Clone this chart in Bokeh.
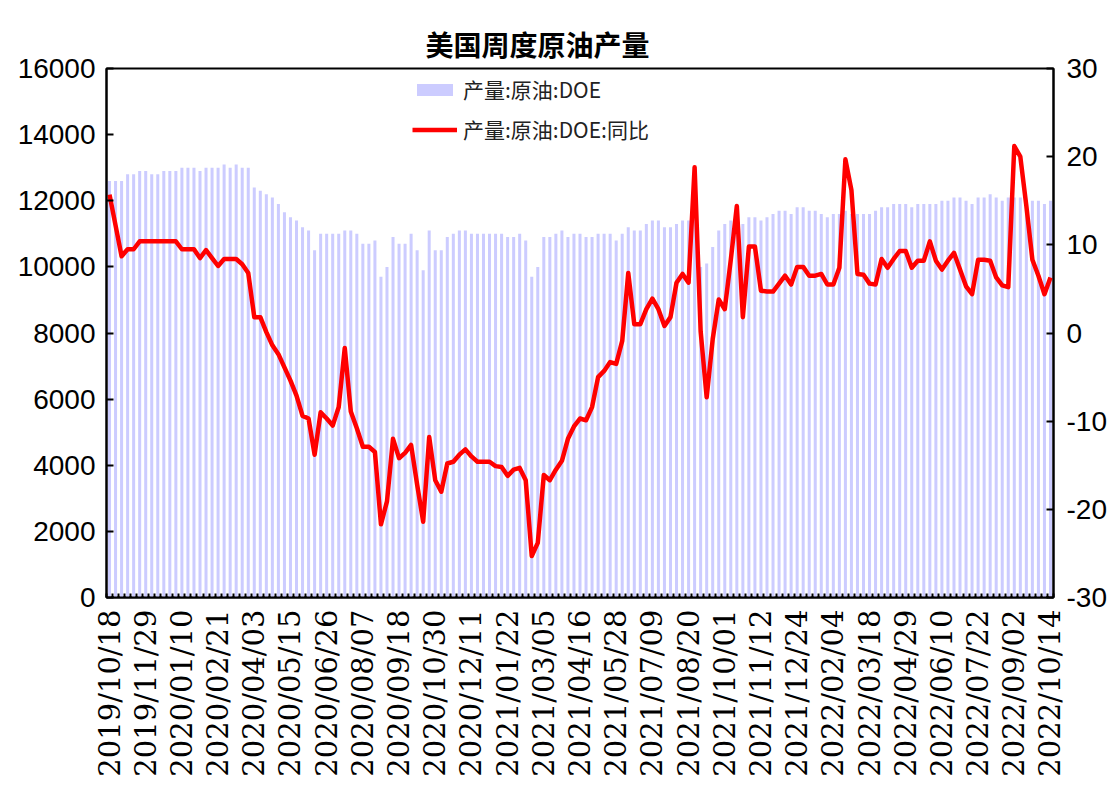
import math
from bokeh.plotting import figure
from bokeh.models import (Range1d, LinearAxis, FixedTicker, Legend, LegendItem,
                          ColumnDataSource)
from bokeh.embed import file_html
from bokeh.resources import INLINE

title_text = "美国周度原油产量"
series_bar_name = "产量:原油:DOE"
series_line_name = "产量:原油:DOE:同比"

tick_labels = [
    "2019/10/18", "2019/11/29", "2020/01/10", "2020/02/21", "2020/04/03",
    "2020/05/15", "2020/06/26", "2020/08/07", "2020/09/18", "2020/10/30",
    "2020/12/11", "2021/01/22", "2021/03/05", "2021/04/16", "2021/05/28",
    "2021/07/09", "2021/08/20", "2021/10/01", "2021/11/12", "2021/12/24",
    "2022/02/04", "2022/03/18", "2022/04/29", "2022/06/10", "2022/07/22",
    "2022/09/02", "2022/10/14",
]
weeks_per_label = 6

production = [
    12600, 12600, 12600, 12800, 12800, 12900, 12900, 12800, 12800, 12900, 12900, 12900,
    13000, 13000, 13000, 12900, 13000, 13000, 13000, 13100, 13000, 13100, 13000, 13000,
    12400, 12300, 12200, 12100, 11900, 11650, 11500, 11400, 11200, 11100, 10500, 11000,
    11000, 11000, 11000, 11100, 11100, 11000, 10700, 10700, 10800, 9700, 10000, 10900,
    10700, 10700, 11000, 10500, 9900, 11100, 10500, 10500, 10900, 11000, 11100, 11100,
    11000, 11000, 11000, 11000, 11000, 11000, 10900, 10900, 11000, 10800, 9700, 10000,
    10900, 10900, 11000, 11100, 10900, 11000, 11000, 10900, 10900, 11000, 11000, 11000,
    10800, 11000, 11200, 11100, 11100, 11300, 11400, 11400, 11200, 11200, 11300, 11400,
    11400, 11500, 10000, 10100, 10600, 11100, 11300, 11400, 11500, 11300, 11500, 11500,
    11400, 11500, 11600, 11700, 11700, 11600, 11800, 11800, 11700, 11700, 11600, 11500,
    11600, 11600, 11700, 11600, 11600, 11600, 11600, 11700, 11800, 11800, 11900, 11900,
    11900, 11800, 11900, 11900, 11900, 11900, 12000, 12000, 12100, 12100, 12000, 11900,
    12100, 12100, 12200, 12100, 12000, 12100, 12100, 12100, 12000, 12000, 12000, 11900,
    12000,
]

yoy = [
    15.7, 12.2, 8.7, 9.5, 9.5, 10.4, 10.4, 10.4, 10.4, 10.4, 10.4, 10.4,
    9.5, 9.5, 9.5, 8.5, 9.4, 8.5, 7.6, 8.4, 8.4, 8.4, 7.8, 6.8,
    1.8, 1.8, 0.1, -1.4, -2.4, -3.9, -5.4, -7.1, -9.4, -9.7, -13.8, -9.0,
    -9.7, -10.5, -8.4, -1.7, -8.9, -10.8, -12.9, -12.9, -13.5, -21.7, -19.1, -12.0,
    -14.2, -13.6, -12.7, -17.2, -21.4, -11.8, -16.7, -18.0, -14.8, -14.6, -13.8, -13.2,
    -14.0, -14.6, -14.6, -14.6, -15.1, -15.2, -16.2, -15.5, -15.3, -16.7, -25.3, -23.8,
    -16.1, -16.7, -15.5, -14.5, -12.0, -10.6, -9.7, -9.9, -8.4, -5.0, -4.3, -3.3,
    -3.5, -0.9, 6.8, 1.0, 1.0, 2.7, 3.9, 2.7, 0.8, 1.8, 5.7, 6.7,
    5.7, 18.8, 0.2, -7.3, -0.7, 3.8, 2.7, 8.3, 14.4, 1.8, 9.8, 9.8,
    4.8, 4.7, 4.7, 5.6, 6.5, 5.5, 7.5, 7.5, 6.5, 6.5, 6.7, 5.5,
    5.5, 7.4, 19.7, 16.2, 6.7, 6.6, 5.6, 5.5, 8.4, 7.4, 8.4, 9.3,
    9.3, 7.4, 8.2, 8.2, 10.4, 8.2, 7.2, 8.2, 9.1, 7.2, 5.3, 4.4,
    8.3, 8.3, 8.2, 6.3, 5.4, 5.2, 21.2, 20.0, 14.4, 8.3, 6.5, 4.4,
    6.3,
]

left_ticks = [0, 2000, 4000, 6000, 8000, 10000, 12000, 14000, 16000]
right_ticks = [-30, -20, -10, 0, 10, 20, 30]

n = len(production)
src = ColumnDataSource(dict(x=list(range(n)), prod=production, yoy=yoy))

p = figure(width=1109, height=779,
           x_range=Range1d(-0.5, n - 0.5), y_range=Range1d(0, 16000),
           output_backend="svg", toolbar_location=None,
           min_border_left=106, min_border_right=54,
           min_border_top=68, min_border_bottom=179)
p.extra_y_ranges = {"pct": Range1d(-30, 30)}
p.xgrid.visible = False
p.ygrid.visible = False
p.outline_line_color = "black"
p.outline_line_width = 2
p.outline_line_alpha = 1.0
p.background_fill_color = "white"
p.border_fill_color = "white"

bars = p.vbar(x="x", top="prod", width=0.5, source=src,
              fill_color="#CCCCFF", line_color=None)
line = p.line(x="x", y="yoy", source=src, y_range_name="pct",
              line_color="#FF0000", line_width=4.5, line_join="round")

# Title
p.title.text = title_text
p.title.text_font = "Noto Sans CJK SC"
p.title.text_font_size = "28px"
p.title.text_font_style = "bold"
p.title.text_color = "black"
p.title.align = "left"
p.title.offset = 319

num_font = "Liberation Sans"

# left axis
ya = p.yaxis[0]
ya.ticker = FixedTicker(ticks=left_ticks)
ya.major_label_text_font = num_font
ya.major_label_text_font_size = "28px"
ya.major_label_text_color = "black"
ya.major_tick_in = 7
ya.major_tick_out = 0
ya.minor_tick_line_color = None
ya.axis_line_color = "black"
ya.axis_line_width = 2
ya.major_tick_line_width = 2
ya.major_label_standoff = 11

# right axis
ra = LinearAxis(y_range_name="pct", ticker=FixedTicker(ticks=right_ticks))
ra.major_label_overrides = {v: str(v) for v in right_ticks}
ra.major_label_text_font = num_font
ra.major_label_text_font_size = "28px"
ra.major_label_text_color = "black"
ra.major_tick_in = 7
ra.major_tick_out = 0
ra.minor_tick_line_color = None
ra.axis_line_color = "black"
ra.axis_line_width = 2
ra.major_tick_line_width = 2
ra.major_label_standoff = 13
p.add_layout(ra, "right")

# x axis
xa = p.xaxis[0]
major = [k * weeks_per_label for k in range(len(tick_labels))]
xa.ticker = FixedTicker(ticks=major, minor_ticks=[i - 0.5 for i in range(n + 1)])
xa.major_label_overrides = {major[k]: tick_labels[k] for k in range(len(tick_labels))}
xa.major_label_orientation = math.pi / 2
xa.major_label_text_font = "DejaVu Serif"
xa.major_label_text_font_size = "29px"
xa.major_label_text_color = "black"
xa.major_tick_in = 0
xa.major_tick_out = 0
xa.minor_tick_in = 4
xa.minor_tick_out = 0
xa.minor_tick_line_color = "black"
xa.minor_tick_line_width = 2
xa.axis_line_color = "black"
xa.axis_line_width = 2
xa.major_label_standoff = 12

legend = Legend(items=[LegendItem(label=series_bar_name, renderers=[bars]),
                       LegendItem(label=series_line_name, renderers=[line])],
                location=(306, 453))
legend.label_text_font = "Noto Sans CJK SC"
legend.label_text_font_size = "21px"
legend.label_text_color = "#222222"
legend.glyph_width = 45
legend.glyph_height = 15
legend.label_height = 22
legend.spacing = 10
legend.padding = 0
legend.margin = 0
legend.label_standoff = 6
legend.border_line_alpha = 0
legend.background_fill_alpha = 0
p.add_layout(legend, "center")

open("out.html", "w").write(file_html(p, INLINE))
